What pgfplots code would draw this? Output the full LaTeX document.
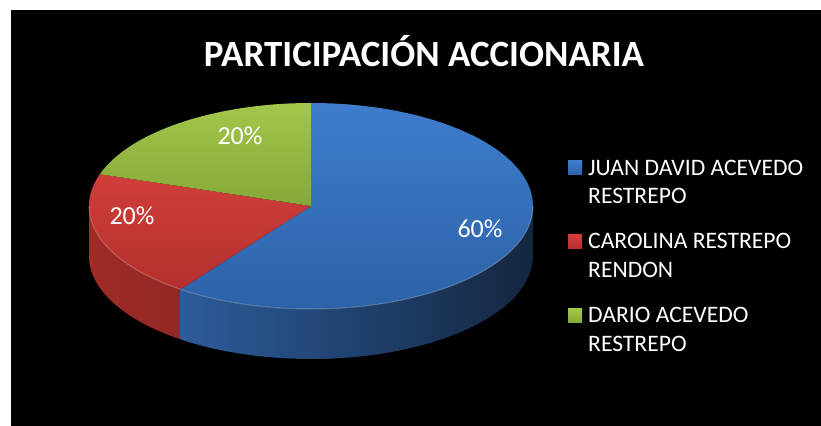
\documentclass[border=0pt]{standalone}
\usepackage{pgfplots}
\pgfplotsset{compat=1.18}
\usepackage{pgfplotstable}
\usepackage{fontspec}
\setmainfont{Carlito}
\definecolor{bluetopA}{HTML}{3E7DCC}
\definecolor{bluetopB}{HTML}{2C62A8}
\definecolor{bluesideA}{HTML}{2C5C9C}
\definecolor{bluesideB}{HTML}{14263F}
\definecolor{redtopA}{HTML}{D03E3A}
\definecolor{redtopB}{HTML}{B3302D}
\definecolor{redsideA}{HTML}{A02B27}
\definecolor{redsideB}{HTML}{7E2220}
\definecolor{greentopA}{HTML}{A3C64A}
\definecolor{greentopB}{HTML}{86A83A}

\pgfplotstableread{
name value
Juan 60
Carolina 20
Dario 20
}\sharetable

\begin{document}
\begin{tikzpicture}
\pgfplotstablegetelem{0}{value}\of\sharetable \let\vA\pgfplotsretval
\pgfplotstablegetelem{1}{value}\of\sharetable \let\vB\pgfplotsretval
\pgfplotstablegetelem{2}{value}\of\sharetable \let\vC\pgfplotsretval
\pgfmathsetmacro\tot{\vA+\vB+\vC}
\pgfmathsetmacro\aO{90}
\pgfmathsetmacro\aA{\aO-360*(\vA/\tot)}
\pgfmathsetmacro\aB{\aA-360*(\vB/\tot)}
\pgfmathsetmacro\aC{\aB-360*(\vC/\tot)}
% visible front side portions
\pgfmathsetmacro\bsS{max(\aA,-180)}\pgfmathsetmacro\bsE{min(\aO,0)}
\pgfmathsetmacro\rsS{max(\aB,-180)}\pgfmathsetmacro\rsE{min(\aA,0)}
\begin{axis}[width=821bp, height=426bp, scale only axis,
  xmin=0, xmax=821, ymin=0, ymax=426, hide axis, clip=false]
\fill[white] (axis cs:0,0) rectangle (axis cs:821,426);
\fill[black] (axis cs:11,0) rectangle (axis cs:821,416);
% sides
\path[left color=bluesideA, right color=bluesideB]
  (axis cs:311,220) ++(\bsS:222bp and 103bp) arc[start angle=\bsS, end angle=\bsE, x radius=222bp, y radius=103bp]
  -- ++(0,-50bp) arc[start angle=\bsE, end angle=\bsS, x radius=222bp, y radius=103bp] -- cycle;
\path[left color=redsideA, right color=redsideB]
  (axis cs:311,220) ++(\rsS:222bp and 103bp) arc[start angle=\rsS, end angle=\rsE, x radius=222bp, y radius=103bp]
  -- ++(0,-50bp) arc[start angle=\rsE, end angle=\rsS, x radius=222bp, y radius=103bp] -- cycle;
% top faces
\path[top color=bluetopA, bottom color=bluetopB]
  (axis cs:311,220) -- ++(\aO:222bp and 103bp) arc[start angle=\aO, end angle=\aA, x radius=222bp, y radius=103bp] -- cycle;
\path[top color=redtopA, bottom color=redtopB]
  (axis cs:311,220) -- ++(\aA:222bp and 103bp) arc[start angle=\aA, end angle=\aB, x radius=222bp, y radius=103bp] -- cycle;
\path[top color=greentopA, bottom color=greentopB]
  (axis cs:311,220) -- ++(\aB:222bp and 103bp) arc[start angle=\aB, end angle=\aC, x radius=222bp, y radius=103bp] -- cycle;
% rim highlight
\draw[white, opacity=0.25, line width=1bp]
  (axis cs:311,220) ++(-180:222bp and 103bp) arc[start angle=-180, end angle=0, x radius=222bp, y radius=103bp];
% percent labels
\addplot[draw=none, mark=none, nodes near coords, point meta=explicit symbolic,
  nodes near coords style={text=white, font=\fontsize{26bp}{30bp}\selectfont, anchor=base}]
  coordinates {(480,188)[60\%] (132,201)[20\%] (240,281)[20\%]};
% title
\node[text=white, font=\fontsize{37bp}{44bp}\selectfont\bfseries, anchor=base] at (axis cs:424,359) {PARTICIPACIÓN ACCIONARIA};
% legend
\fill[top color=bluetopA, bottom color=bluetopB] (axis cs:568,251) rectangle (axis cs:582,265);
\fill[top color=redtopA, bottom color=redtopB] (axis cs:568,177) rectangle (axis cs:582,191);
\fill[top color=greentopA, bottom color=greentopB] (axis cs:568,103) rectangle (axis cs:582,117);
\begin{scope}[every node/.style={text=white, font=\fontsize{23.6bp}{28bp}\selectfont, anchor=base west, inner sep=0pt}]
\node at (axis cs:588,250) {JUAN DAVID ACEVEDO};
\node at (axis cs:588,222) {RESTREPO};
\node at (axis cs:588,177) {CAROLINA RESTREPO};
\node at (axis cs:588,148) {RENDON};
\node at (axis cs:588,103) {DARIO ACEVEDO};
\node at (axis cs:588,74) {RESTREPO};
\end{scope}
\end{axis}
\end{tikzpicture}
\end{document}
